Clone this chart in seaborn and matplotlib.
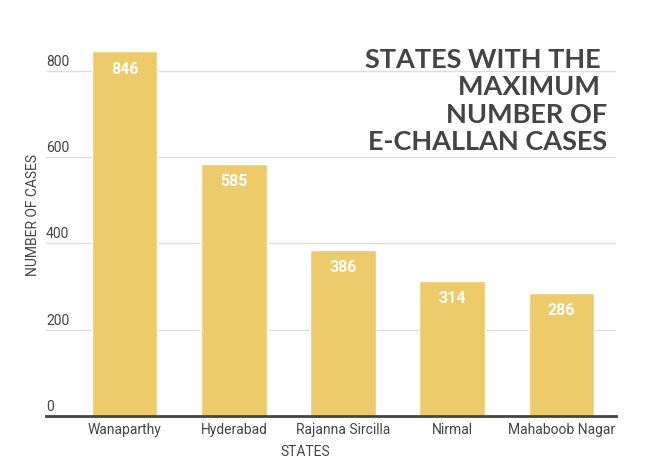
import matplotlib
matplotlib.use("Agg")
import matplotlib.pyplot as plt
import matplotlib.transforms as mtransforms
import seaborn as sns
import pandas as pd

states = ["Wanaparthy", "Hyderabad", "Rajanna Sircilla", "Nirmal", "Mahaboob Nagar"]
cases = [846, 585, 386, 314, 286]
yticks = [0, 200, 400, 600, 800]

df = pd.DataFrame({"state": states, "cases": cases})

sns.set_style("white")
plt.rcParams["font.family"] = ["Roboto", "DejaVu Sans"]

fig = plt.figure(figsize=(6.49, 4.67), dpi=100)
ax = fig.add_axes([46 / 649, 51 / 467, 570 / 649, 386 / 467])

sns.barplot(data=df, x="state", y="cases", color="#EECB6A", width=0.6,
            saturation=1, ax=ax, zorder=3)

ax.set_xlim(-0.72, 4.5)
ax.set_ylim(0, 895)

# gridlines + labels sitting above them
ax.set_yticks(yticks)
ax.set_yticklabels([])
ax.tick_params(axis="y", length=0)
for y in yticks[1:]:
    ax.axhline(y, color="#dddddd", lw=1, zorder=1)
trans = mtransforms.blended_transform_factory(ax.transAxes, ax.transData)
for y in yticks:
    ax.text(0.0, y + 5, str(y), transform=trans, ha="left", va="bottom",
            fontsize=10, color="#444444")

for i, v in enumerate(cases):
    ax.text(i, v - 42, str(v), ha="center", va="center", color="white",
            fontsize=11.5, fontweight="bold", zorder=4)

ax.tick_params(axis="x", length=0, pad=5, labelsize=10, labelcolor="#444444")
for s in ["top", "right", "left"]:
    ax.spines[s].set_visible(False)
ax.spines["bottom"].set_color("#444444")
ax.spines["bottom"].set_linewidth(2)
ax.spines["bottom"].set_zorder(5)

ax.set_xlabel("STATES", fontsize=10, color="#444444")
ax.set_ylabel("NUMBER OF CASES", fontsize=10, color="#444444")
ax.xaxis.set_label_coords(0.454, -0.075)
ax.yaxis.set_label_coords(-0.011, 0.52)

fig.text(607 / 649, 1 - 101 / 467,
         "STATES WITH THE \nMAXIMUM \nNUMBER OF\nE-CHALLAN CASES",
         ha="right", va="center", multialignment="right",
         fontsize=19.5, fontweight="bold", color="#444444",
         family=["Lato", "DejaVu Sans"], linespacing=1.18)

fig.savefig("out.png", dpi=100, facecolor="white")
